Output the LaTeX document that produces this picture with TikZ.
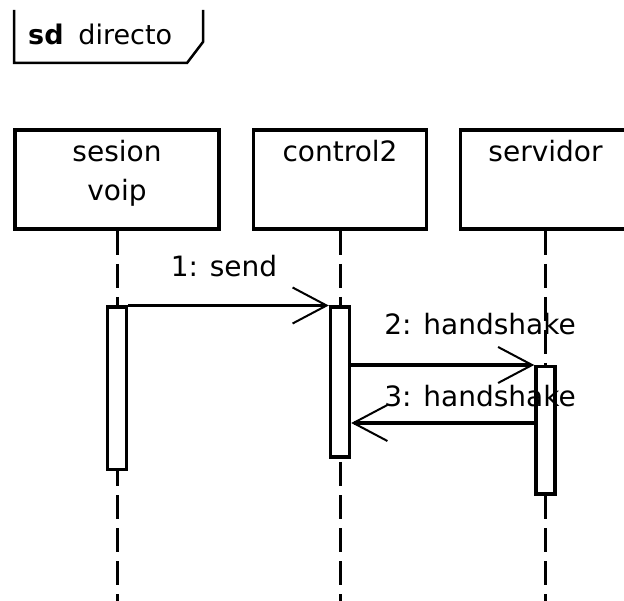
\documentclass[tikz,border=0pt]{standalone}
\usepackage{fontspec}
\setmainfont{DejaVu Sans}
\usetikzlibrary{arrows.meta, positioning}

\begin{document}
\begin{tikzpicture}[
   x=1pt, y=-1pt,
   every node/.style={font=\fontsize{28}{39}\selectfont, inner sep=0pt},
   head/.style={draw, line width=3.5pt, anchor=north, minimum height=99pt},
   act/.style={draw, fill=white, line width=3.5pt, anchor=north, minimum width=19pt},
   lifeline/.style={line width=3pt, dash pattern=on 24pt off 9pt},
   msg/.style={line width=3.5pt,
               -{Straight Barb[length=34pt, width=36pt, line width=2pt]}},
   lbl/.style={anchor=base, align=center}]

  \path[use as bounding box, clip] (0,0) rectangle (624,601);

  % frame tag
  \draw[line width=2.5pt] (14,10) -- (14,63) -- (187,63) -- (203,42) -- (203,10);
  \node[anchor=base west, font=\fontsize{27}{30}\selectfont] (sdtitle) at (28,45)
       {\textbf{sd}\hspace{0.55em}directo};

  % participants
  \node[head, minimum width=204pt] (voip) at (117,128.5) {};
  \node[head, minimum width=173pt] (ctrl) at (340,128.5) {};
  \node[head, minimum width=170pt] (serv) at (545.5,128.5) {};
  \node[lbl] (voiptxt) at (117,201) {sesion\\voip};
  \node[lbl] (ctrltxt) at (340,162) {control2};
  \node[lbl] (servtxt) at (545.5,162) {servidor};

  \coordinate (bottom) at (0,610);
  \draw[lifeline] (voip) -- (voip |- bottom);
  \draw[lifeline] (ctrl) -- (ctrl |- bottom);
  \draw[lifeline] (serv) -- (serv |- bottom);

  % activations
  \node[act, minimum height=162pt] (voipact) at (117,305.5) {};
  \node[act, minimum height=150pt] (ctrlact) at (340,305.5) {};
  \node[act, minimum height=127pt] (servact) at (545.5,365) {};

  % messages
  \draw[msg] (voipact.north east) -- (ctrlact.north west);
  \draw[msg] (servact.north west -| ctrlact.east) -- (servact.north west);
  \coordinate (ret) at ([yshift=-58pt]servact.north west);
  \draw[msg] (ret) -- (ret -| ctrlact.east);

  \node[lbl] (sendlbl) at (224,277) {1: send};
  \node[lbl] (hs2lbl) at (480,335) {2: handshake};
  \node[lbl] (hs3lbl) at (480,407) {3: handshake};
\end{tikzpicture}
\end{document}
